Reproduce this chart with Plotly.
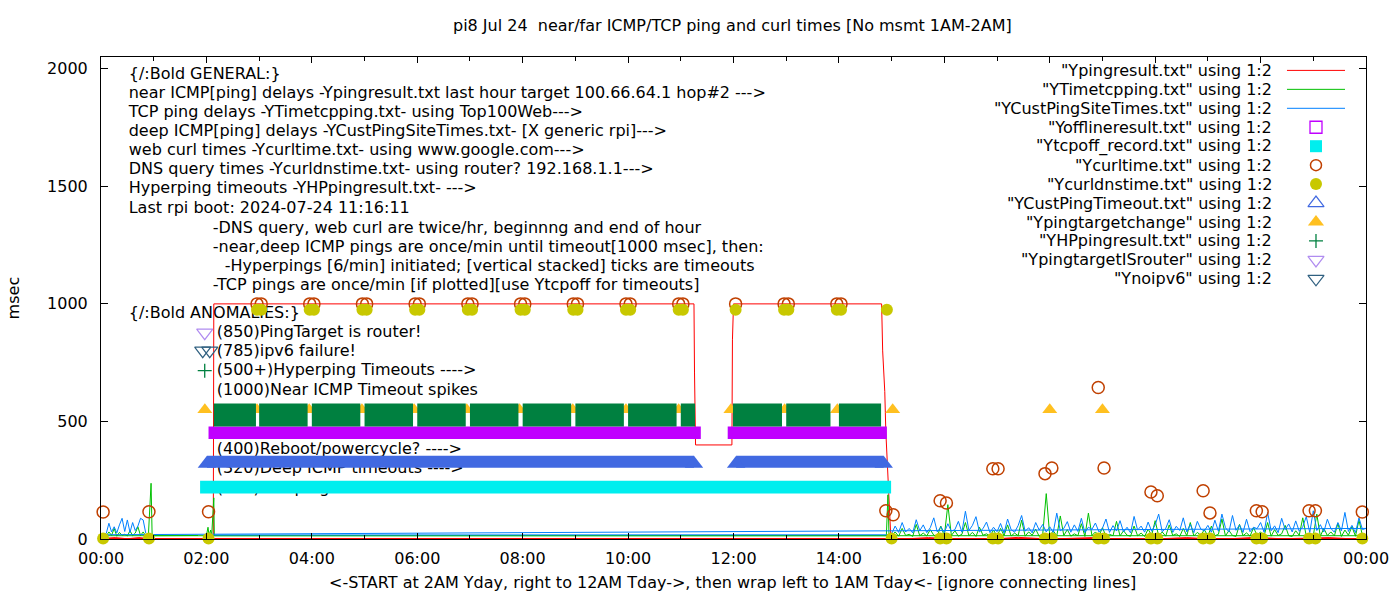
import plotly.graph_objects as go

# ======================= DATA (hours of day, msec) =======================
# near ICMP ping  "Ypingresult.txt"  (file order: 2AM yday -> midnight, then wraps to 0:00 -> 1AM)
ping_hour = [2.0, 2.07, 2.13, 2.14, 11.25, 11.26, 11.28, 11.97, 11.98, 12.0,
             14.81, 14.83, 14.85, 14.87, 14.89, 14.92, 14.95, 14.98, 15.0,
             15.3, 15.7, 16.1, 16.6, 17.0, 17.4, 17.9, 18.3, 18.8, 19.2, 19.7,
             20.1, 20.6, 21.0, 21.5, 21.9, 22.4, 22.8, 23.3, 23.7, 24.0,
             0.0, 0.27, 0.5, 0.72, 0.95, 1.0]
ping_ms = [2, 1, 2, 1000, 1000, 710, 400, 400, 847, 1000,
           1000, 800, 712, 627, 456, 295, 210, 30, 2,
           1, 6, 1, 2, 1, 7, 1, 2, 6, 1, 2,
           1, 6, 1, 2, 7, 1, 2, 6, 1, 2,
           2, 6, 1, 6, 1, 2]

# TCP ping  "YTimetcpping.txt"
tcp_pre_hour = [2.0, 2.03, 2.05, 2.08, 2.1, 2.14, 2.15, 14.9, 14.93, 14.95]
tcp_pre_ms = [14, 50, 14, 38, 15, 175, 14, 14, 188, 15]
tcp_day_start_hour = 15.0
tcp_day_step_min = 4
tcp_day_ms = [14, 30, 12, 45, 15, 20, 11, 62, 14, 25, 13, 40, 16, 12, 55,
              13, 146, 15, 35, 12, 20, 70, 14, 28, 11, 50, 16, 22, 13, 38,
              12, 45, 15, 60, 13, 25, 14, 80, 12, 30, 16, 42, 11, 20, 193,
              14, 35, 13, 98, 15, 40, 12, 22, 14, 65, 11, 110, 15, 30, 13,
              48, 12, 20, 14, 75, 13, 35, 16, 12, 55, 14, 25, 11, 42, 15,
              78, 13, 30, 12, 60, 15, 22, 11, 45, 14, 70, 13, 28, 16, 40,
              12, 55, 14, 20, 85, 13, 36, 15, 11, 62, 14, 26, 12, 48, 16,
              30, 13, 70, 12, 40, 15, 22, 58, 14, 11, 35, 16, 90, 13, 25,
              14, 106, 12, 45, 15, 30, 13, 66, 11, 38, 16, 52, 12, 80, 14,
              14]
tcp_early_start_hour = 0.0
tcp_early_step_min = 3
tcp_early_ms = [14, 22, 13, 30, 15, 45, 12, 28, 16, 20, 13, 35, 14, 25, 52, 15, 30, 13, 20, 237]
tcp_tail_hour = [0.97, 1.84]
tcp_tail_ms = [14, 15]

# deep ICMP ping  "YCustPingSiteTimes.txt"
cps_pre_hour = [2.0, 2.07, 2.13, 14.95]
cps_pre_ms = [18, 20, 17, 18]
cps_day_start_hour = 15.0
cps_day_step_min = 4
cps_day_ms = [22, 55, 28, 70, 30, 45, 26, 82, 35, 60, 27, 48, 90, 30, 52,
              28, 65, 33, 40, 75, 29, 118, 36, 58, 95, 30, 44, 72, 27, 50,
              31, 66, 25, 85, 40, 29, 57, 100, 33, 48, 26, 70, 38, 62, 30,
              52, 28, 110, 35, 45, 74, 29, 60, 32, 88, 27, 50, 41, 68, 30,
              46, 85, 28, 57, 34, 78, 30, 50, 26, 96, 38, 55, 29, 72, 33,
              60, 106, 31, 45, 82, 28, 54, 36, 90, 30, 62, 27, 75, 42, 35,
              58, 29, 80, 33, 106, 48, 30, 100, 37, 60, 28, 84, 31, 50, 44,
              70, 29, 113, 35, 56, 27, 88, 40, 64, 30, 77, 33, 52, 95, 28,
              120, 36, 61, 30, 84, 45, 29, 70, 35, 113, 32, 58, 27, 90, 40,
              45]
cps_early_start_hour = 0.0
cps_early_step_min = 3
cps_early_ms = [18, 20, 24, 67, 30, 52, 26, 60, 88, 32, 81, 28, 70, 36, 55, 88, 81, 24]

# offline records "Yofflineresult.txt" (intervals, band 425-479)
off_start = [2.04, 11.89]
off_end = [11.38, 14.91]
off_band = [425, 479]

# TCP ping timeouts "Ytcpoff_record.txt" (band 193-248)
tcpoff_start = [1.88]
tcpoff_end = [14.99]
tcpoff_band = [193, 248]

# web curl times "Ycurltime.txt"
curl_hour = [0.04, 0.91, 2.04,
             2.96, 3.04, 3.96, 4.04, 4.96, 5.04, 5.96, 6.04, 6.96, 7.04, 7.96, 8.04,
             8.96, 9.04, 9.96, 10.04, 10.96, 11.04, 12.04, 12.96, 13.04, 13.96, 14.04,
             14.89, 15.03, 15.92, 16.04, 16.92, 17.02, 17.91, 18.04, 18.92, 19.03,
             19.92, 20.04, 20.91, 21.04, 21.92, 22.03, 22.92, 23.04, 23.93]
curl_ms = [115, 116, 116,
           1000, 1000, 1000, 1000, 1000, 1000, 1000, 1000, 1000, 1000, 1000, 1000,
           1000, 1000, 1000, 1000, 1000, 1000, 1000, 1000, 1000, 1000, 1000,
           120, 103, 163, 153, 299, 299, 278, 302, 644, 302,
           200, 184, 205, 111, 120, 116, 120, 120, 115]

# DNS query times "Ycurldnstime.txt"
dns_hour = [0.04, 0.91, 2.04,
            2.96, 3.04, 3.96, 4.04, 4.96, 5.04, 5.96, 6.04, 6.96, 7.04, 7.96, 8.04,
            8.96, 9.04, 9.96, 10.04, 10.96, 11.04, 12.04, 12.96, 13.04, 13.96, 14.04, 14.91,
            15.0, 15.92, 16.04, 16.92, 17.02, 17.91, 18.04, 18.92, 19.03,
            19.92, 20.04, 20.91, 21.04, 21.92, 22.03, 22.92, 23.04, 23.93]
dns_ms = [2, 2, 2,
          975, 975, 975, 975, 975, 975, 975, 975, 975, 975, 975, 975,
          975, 975, 975, 975, 975, 975, 975, 975, 975, 975, 975, 975,
          2, 2, 2, 2, 2, 2, 2, 2, 2,
          2, 2, 2, 2, 2, 2, 2, 2, 2]

# deep ICMP timeouts "YCustPingTimeout.txt" (runs of timeouts at 320, band 303-354)
cpt_start = [2.01, 12.05]
cpt_end = [11.25, 14.85]
cpt_ms = 320
cpt_band = [303, 354]

# ping target change "Ypingtargetchange"
tc_hour = [1.97, 2.96, 3.95, 4.95, 5.94, 6.94, 7.94, 8.95, 9.96, 10.96, 11.95, 12.97, 13.97, 15.02, 18.0, 19.0]
tc_ms = [550] * len(tc_hour)

# hyperping timeouts "YHPpingresult.txt" (stacked 500+, band 478-576)
hp_start = [2.14, 3.0, 4.0, 5.0, 6.0, 7.0, 8.0, 9.0, 10.0, 11.0, 11.99, 13.0, 14.0]
hp_end = [2.94, 3.92, 4.92, 5.92, 6.92, 7.92, 8.92, 9.92, 10.92, 11.27, 12.92, 13.84, 14.80]
hp_band = [478, 576]

# axis ticks
x_tick_hours = list(range(0, 25, 2))
x_tick_text = ["00:00", "02:00", "04:00", "06:00", "08:00", "10:00", "12:00",
               "14:00", "16:00", "18:00", "20:00", "22:00", "00:00"]
x_minor_hours = list(range(1, 24, 2))
y_tick_vals = [0, 500, 1000, 1500, 2000]
y_tick_text = ["0", "500", "1000", "1500", "2000"]

# ======================= LAYOUT CONSTANTS =======================
W, H = 1400, 600
L, R, T, B = 101.3, 1366.0, 57.3, 539.3
X_RANGE = [0, 24]
Y_RANGE = [0, 2050]
FONT = "DejaVu Sans"
FS = 16


def px_to_paper(px, py):
    """picture pixel -> plot-area fraction"""
    return (px - L) / (R - L), (B - py) / (B - T)


def px_to_data(px, py):
    ux, uy = px_to_paper(px, py)
    return X_RANGE[0] + ux * (X_RANGE[1] - X_RANGE[0]), Y_RANGE[0] + uy * (Y_RANGE[1] - Y_RANGE[0])


def sampled(start_hour, step_min, values):
    return [start_hour + i * step_min / 60.0 for i in range(len(values))]


def rect_poly(starts, ends, band):
    xs, ys = [], []
    for s, e in zip(starts, ends):
        xs += [s, e, e, s, s, None]
        ys += [band[0], band[0], band[1], band[1], band[0], None]
    return xs, ys


tcp_hour = (tcp_pre_hour + sampled(tcp_day_start_hour, tcp_day_step_min, tcp_day_ms)
            + sampled(tcp_early_start_hour, tcp_early_step_min, tcp_early_ms) + tcp_tail_hour)
tcp_ms = tcp_pre_ms + tcp_day_ms + tcp_early_ms + tcp_tail_ms
cps_hour = (cps_pre_hour + sampled(cps_day_start_hour, cps_day_step_min, cps_day_ms)
            + sampled(cps_early_start_hour, cps_early_step_min, cps_early_ms))
cps_ms = cps_pre_ms + cps_day_ms + cps_early_ms

fig = go.Figure()

# ---- labels drawn beneath the data (gnuplot "back" labels) ----
label_lines = [
    ("{/:Bold GENERAL:}", 129, 75),
    ("near ICMP[ping] delays -Ypingresult.txt last hour target 100.66.64.1 hop#2 --->", 129, 94),
    ("TCP ping delays -YTimetcpping.txt- using Top100Web--->", 129, 113),
    ("deep ICMP[ping] delays -YCustPingSiteTimes.txt- [X generic rpi]--->", 129, 132),
    ("web curl times -Ycurltime.txt- using www.google.com--->", 129, 151),
    ("DNS query times -Ycurldnstime.txt- using router? 192.168.1.1--->", 129, 170),
    ("Hyperping timeouts -YHPpingresult.txt- --->", 129, 189),
    ("Last rpi boot: 2024-07-24 11:16:11", 129, 209),
    ("-DNS query, web curl are twice/hr, beginnng and end of hour", 213, 229),
    ("-near,deep ICMP pings are once/min until timeout[1000 msec], then:", 213, 248),
    ("-Hyperpings [6/min] initiated; [vertical stacked] ticks are timeouts", 225, 267),
    ("-TCP pings are once/min [if plotted][use Ytcpoff for timeouts]", 213, 286),
    ("{/:Bold ANOMALIES:}", 129, 314),
    ("(850)PingTarget is router!", 217, 333),
    ("(785)ipv6 failure!", 217, 352),
    ("(500+)Hyperping Timeouts ---->", 217, 371),
    ("(1000)Near ICMP Timeout spikes", 217, 391),
    ("(400)Reboot/powercycle? ---->", 217, 450),
    ("(320)Deep ICMP timeouts ---->", 217, 469),
    ("(220)TCP ping timeouts ---->", 217, 489),
]
lx, ly = zip(*[px_to_data(px, py) for _, px, py in label_lines])
fig.add_trace(go.Scatter(x=lx, y=ly, text=[t for t, _, _ in label_lines], mode="text",
                         textposition="middle right", textfont=dict(family=FONT, size=FS, color="black"),
                         hoverinfo="skip", cliponaxis=False))

# ---- data series ----
fig.add_trace(go.Scatter(x=ping_hour, y=ping_ms, mode="lines", line=dict(color="#ff0000", width=1)))
fig.add_trace(go.Scatter(x=tcp_hour, y=tcp_ms, mode="lines", line=dict(color="#00c000", width=1)))
fig.add_trace(go.Scatter(x=cps_hour, y=cps_ms, mode="lines", line=dict(color="#0080ff", width=1)))

px_, py_ = rect_poly(off_start, off_end, off_band)
fig.add_trace(go.Scatter(x=px_, y=py_, mode="lines", fill="toself", fillcolor="#c000ff",
                         line=dict(width=0, color="#c000ff")))
px_, py_ = rect_poly(tcpoff_start, tcpoff_end, tcpoff_band)
fig.add_trace(go.Scatter(x=px_, y=py_, mode="lines", fill="toself", fillcolor="#00eeee",
                         line=dict(width=0, color="#00eeee")))

fig.add_trace(go.Scatter(x=curl_hour, y=curl_ms, mode="markers", cliponaxis=False,
                         marker=dict(symbol="circle-open", size=12, color="#c04000",
                                     line=dict(width=1.5, color="#c04000"))))
fig.add_trace(go.Scatter(x=dns_hour, y=dns_ms, mode="markers", cliponaxis=False,
                         marker=dict(symbol="circle", size=12, color="#c8c800", line=dict(width=0))))

px_, py_ = rect_poly(cpt_start, cpt_end, cpt_band)
fig.add_trace(go.Scatter(x=px_, y=py_, mode="lines", fill="toself", fillcolor="#4169e1",
                         line=dict(width=0, color="#4169e1")))
fig.add_trace(go.Scatter(x=cpt_start + cpt_end, y=[cpt_ms] * (len(cpt_start) + len(cpt_end)),
                         mode="markers", marker=dict(symbol="triangle-up", size=16, color="#4169e1",
                                                     line=dict(width=0))))

fig.add_trace(go.Scatter(x=tc_hour, y=tc_ms, mode="markers",
                         marker=dict(symbol="triangle-up", size=13, color="#ffc020", line=dict(width=0))))

px_, py_ = rect_poly(hp_start, hp_end, hp_band)
fig.add_trace(go.Scatter(x=px_, y=py_, mode="lines", fill="toself", fillcolor="#008040",
                         line=dict(width=0, color="#008040")))

# ---- key (drawn on an overlay axis in plot-fraction units) ----
legend_rows = [
    ('"Ypingresult.txt" using 1:2', "line", "#ff0000", None, 0),
    ('"YTimetcpping.txt" using 1:2', "line", "#00c000", None, 0),
    ('"YCustPingSiteTimes.txt" using 1:2', "line", "#0080ff", None, 0),
    ('"Yofflineresult.txt" using 1:2', "square-open", "#c000ff", 12, 1.3),
    ('"Ytcpoff_record.txt" using 1:2', "square", "#00eeee", 12, 0),
    ('"Ycurltime.txt" using 1:2', "circle-open", "#c04000", 11, 1.5),
    ('"Ycurldnstime.txt" using 1:2', "circle", "#c8c800", 12, 0),
    ('"YCustPingTimeout.txt" using 1:2', "triangle-up-open", "#4169e1", 14, 1.2),
    ('"Ypingtargetchange" using 1:2', "triangle-up", "#ffc020", 14, 0),
    ('"YHPpingresult.txt" using 1:2', "cross-thin-open", "#008040", 10, 1.3),
    ('"YpingtargetISrouter" using 1:2', "triangle-down-open", "#b08cf0", 14, 1.2),
    ('"Ynoipv6" using 1:2', "triangle-down-open", "#306080", 14, 1.2),
]
KEY_TEXT_X, KEY_LINE_X0, KEY_LINE_X1, KEY_MARK_X = 1274, 1287, 1345, 1316
KEY_ROW0, KEY_DY = 70.7, 18.95

annotations = []
for k, (txt, kind, col, size, lw) in enumerate(legend_rows):
    yy = KEY_ROW0 + KEY_DY * k
    ax_, ay_ = px_to_paper(KEY_TEXT_X, yy)
    annotations.append(dict(x=ax_, y=ay_, xref="paper", yref="paper", text=txt, showarrow=False,
                            xanchor="right", yanchor="middle", font=dict(family=FONT, size=FS, color="black")))
    if kind == "line":
        x0, y0 = px_to_paper(KEY_LINE_X0, yy)
        x1, _ = px_to_paper(KEY_LINE_X1, yy)
        fig.add_trace(go.Scatter(x=[x0, x1], y=[y0, y0], mode="lines", xaxis="x2", yaxis="y2",
                                 line=dict(color=col, width=1), cliponaxis=False))
    else:
        mx, my = px_to_paper(KEY_MARK_X, yy)
        fig.add_trace(go.Scatter(x=[mx], y=[my], mode="markers", xaxis="x2", yaxis="y2", cliponaxis=False,
                                 marker=dict(symbol=kind, size=size, color=col, line=dict(width=lw, color=col))))

# markers attached to the anomaly labels
label_marks = [
    (205, 333, "triangle-down-open", "#b08cf0", 14, 1.2),
    (203, 351, "triangle-down-open", "#306080", 14, 1.2),
    (210, 351, "triangle-down-open", "#306080", 14, 1.2),
    (205, 371, "cross-thin-open", "#008040", 10, 1.3),
]
for px, py, sym, col, size, lw in label_marks:
    mx, my = px_to_paper(px, py)
    fig.add_trace(go.Scatter(x=[mx], y=[my], mode="markers", xaxis="x2", yaxis="y2", cliponaxis=False,
                             marker=dict(symbol=sym, size=size, color=col, line=dict(width=lw, color=col))))

# title and axis titles
tx, ty = px_to_paper(733, 26)
annotations.append(dict(x=tx, y=ty, xref="paper", yref="paper", showarrow=False, xanchor="center", yanchor="middle",
                        text="pi8 Jul 24\u00a0 near/far ICMP/TCP ping and curl times [No msmt 1AM-2AM]",
                        font=dict(family=FONT, size=FS, color="black")))
tx, ty = px_to_paper(733, 583)
annotations.append(dict(x=tx, y=ty, xref="paper", yref="paper", showarrow=False, xanchor="center", yanchor="middle",
                        text="&lt;-START at 2AM Yday, right to 12AM Tday-&gt;, then wrap left to 1AM Tday&lt;- [ignore connecting lines]",
                        font=dict(family=FONT, size=FS, color="black")))
tx, ty = px_to_paper(14, 298)
annotations.append(dict(x=tx, y=ty, xref="paper", yref="paper", showarrow=False, xanchor="center", yanchor="middle",
                        text="msec", textangle=-90, font=dict(family=FONT, size=FS, color="black")))

axis_common = dict(showline=True, linecolor="black", linewidth=1, mirror="ticks", ticks="inside",
                   tickcolor="black", tickwidth=1, showgrid=False, zeroline=False,
                   tickfont=dict(family=FONT, size=FS, color="black"))

fig.update_layout(
    width=W, height=H,
    margin=dict(l=L, r=W - R, t=T, b=H - B, pad=0),
    paper_bgcolor="white", plot_bgcolor="white",
    showlegend=False,
    hovermode=False,
    font=dict(family=FONT, size=FS, color="black"),
    annotations=annotations,
    xaxis=dict(range=X_RANGE, tickmode="array", tickvals=x_tick_hours, ticktext=x_tick_text, ticklen=6,
               ticklabelstandoff=5,
               minor=dict(tickmode="array", tickvals=x_minor_hours, ticks="inside", ticklen=4,
                          tickcolor="black", showgrid=False),
               **axis_common),
    yaxis=dict(range=Y_RANGE, tickmode="array", tickvals=y_tick_vals, ticktext=y_tick_text, ticklen=7,
               ticklabelstandoff=9, **axis_common),
    xaxis2=dict(overlaying="x", anchor="y2", range=[0, 1], visible=False, fixedrange=True),
    yaxis2=dict(overlaying="y", anchor="x2", range=[0, 1], visible=False, fixedrange=True),
)

# place the figure at the page origin (no default 8px body margin, no scrollbars), no modebar
fig.write_html("out.html", config={"responsive": False, "displayModeBar": False},
               post_script="document.body.style.margin='0';document.body.style.overflow='hidden';")
